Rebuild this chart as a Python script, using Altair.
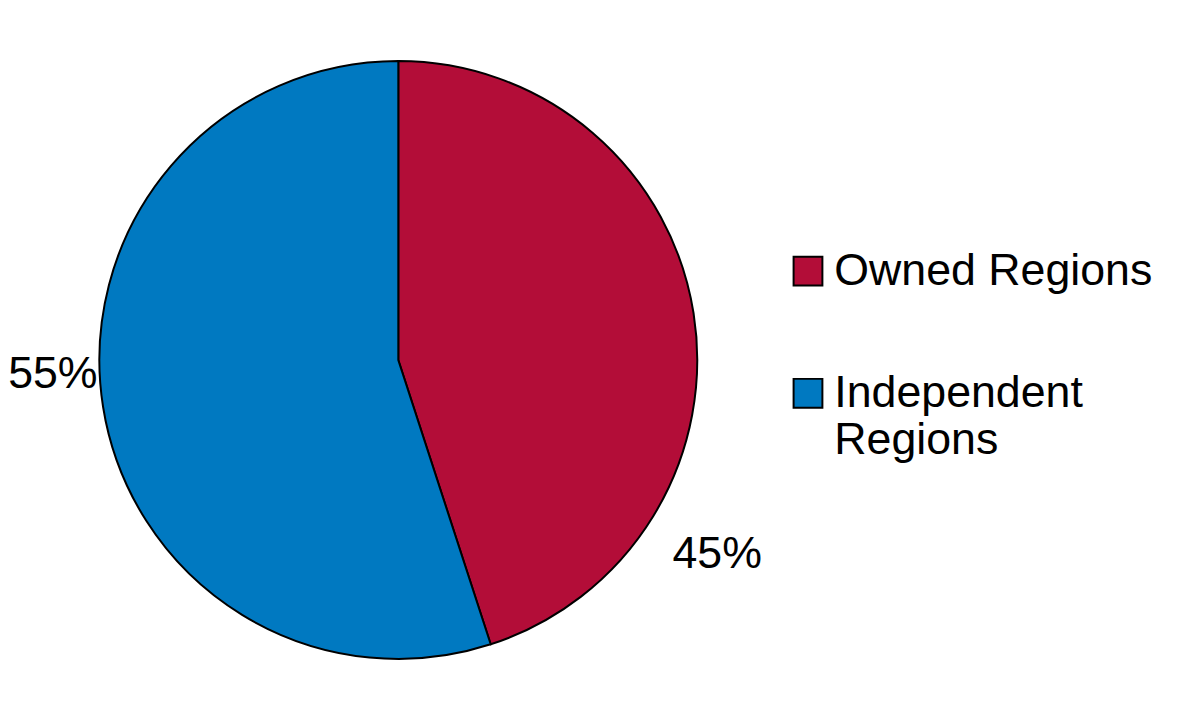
import altair as alt
import pandas as pd

categories = ["Owned Regions", "Independent Regions"]
values = [45, 55]
labels = ["45%", "55%"]
colors = ["#B30D38", "#0079C1"]

df = pd.DataFrame({"category": categories, "value": values, "label": labels, "order": [0, 1]})

FONT = "Liberation Sans, Arial, sans-serif"
FS = 45

base = alt.Chart(df).encode(
    theta=alt.Theta("value:Q", stack=True),
    order=alt.Order("order:Q"),
)

pie = base.mark_arc(outerRadius=301, stroke="black", strokeWidth=2).encode(
    color=alt.Color(
        "category:N",
        scale=alt.Scale(domain=categories, range=colors),
        sort=categories,
        legend=alt.Legend(
            title=None,
            orient="none",
            legendX=783,
            legendY=240,
            symbolType="square",
            symbolSize=841,
            symbolStrokeColor="black",
            symbolStrokeWidth=2,
            symbolOpacity=1,
            labelFont=FONT,
            labelFontSize=FS,
            labelColor="black",
            labelOffset=4,
            labelLimit=400,
            rowPadding=77,
            labelExpr="datum.label == 'Independent Regions' ? ['Independent', 'Regions'] : datum.label",
        ),
    )
)

red_label = base.mark_text(radius=320, dx=5, dy=245, font=FONT, fontSize=FS, color="black").encode(
    text=alt.condition(alt.datum.category == "Owned Regions", "label:N", alt.value(""))
)
blue_label = base.mark_text(radius=340, dx=-12, dy=-39, font=FONT, fontSize=FS, color="black").encode(
    text=alt.condition(alt.datum.category == "Independent Regions", "label:N", alt.value(""))
)

chart = (
    alt.layer(pie, red_label, blue_label)
    .properties(width=786, height=704, autosize="none", padding={"left": 0, "top": 0, "right": 384, "bottom": 0})
    .configure_view(stroke=None)
)

chart.save("out.html", embed_options={"renderer": "svg", "actions": False})
